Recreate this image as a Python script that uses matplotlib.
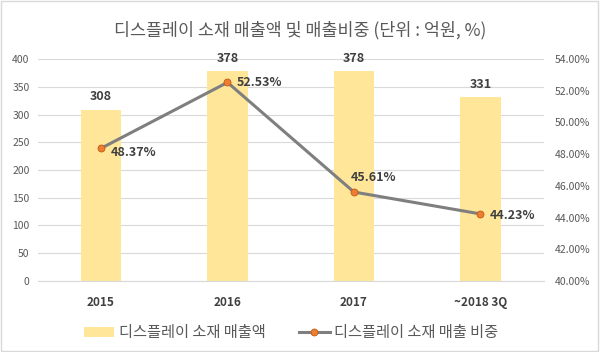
import numpy as np
import matplotlib.pyplot as plt
import matplotlib.ticker as mticker

plt.rcParams['font.family'] = ['Noto Sans CJK KR', 'DejaVu Sans']

categories = ['2015', '2016', '2017', '~2018 3Q']
sales = [308, 378, 378, 331]
share = [48.37, 52.53, 45.61, 44.23]

bar_color = '#FFE699'
line_color = '#7F7F7F'
marker_color = '#ED7D31'
text_color = '#595959'

fig = plt.figure(figsize=(6, 3.52), dpi=100)
ax = fig.add_axes([0.063, 0.202, 0.843, 0.63])
ax2 = ax.twinx()

x = np.arange(len(categories))
ax.bar(x, sales, width=0.32, color=bar_color, zorder=2, label='디스플레이 소재 매출액')
ax.set_ylim(0, 400)
ax.set_xlim(-0.5, len(categories) - 0.5)
ax.set_yticks(np.arange(0, 401, 50))
ax.grid(axis='y', color='#D9D9D9', linewidth=0.8, zorder=0)
ax.set_axisbelow(True)
ax.set_xticks(x)
ax.set_xticklabels(categories, fontsize=8.5, fontweight='bold', color='#404040')
ax.tick_params(axis='x', length=0, pad=11)
ax.tick_params(axis='y', length=0, labelsize=7.5, labelcolor=text_color, pad=6)
for s in ax.spines.values():
    s.set_visible(False)
ax.spines['bottom'].set_visible(True)
ax.spines['bottom'].set_color('#D9D9D9')

for xi, v in zip(x, sales):
    ax.text(xi, v + 12, f'{v}', ha='center', va='bottom', fontsize=9, fontweight='bold', color='#404040')

ax2.plot(x, share, color=line_color, linewidth=2.2, marker='o', markersize=5,
         markerfacecolor=marker_color, markeredgecolor='#C55A11', markeredgewidth=0.6,
         zorder=3, label='디스플레이 소재 매출 비중')
ax2.set_ylim(40, 54)
ax2.set_yticks(np.arange(40, 54.1, 2))
ax2.yaxis.set_major_formatter(mticker.FuncFormatter(lambda v, p: f'{v:.2f}%'))
ax2.tick_params(axis='y', length=0, labelsize=7.5, labelcolor=text_color, pad=8)
for s in ax2.spines.values():
    s.set_visible(False)

offsets = [(7, -3), (7, 0), (-2, 6), (7, -1)]
for xi, v, off in zip(x, share, offsets):
    ax2.annotate(f'{v:.2f}%', (xi, v), xytext=off, textcoords='offset points',
                 ha='left', va='bottom' if off[1] > 3 else 'center',
                 fontsize=9, fontweight='bold', color='#404040')

fig.text(0.5, 0.915, '디스플레이 소재 매출액 및 매출비중 (단위 : 억원, %)', ha='center', va='center',
         fontsize=12.5, color=text_color)

h1, l1 = ax.get_legend_handles_labels()
h2, l2 = ax2.get_legend_handles_labels()
fig.legend(h1 + h2, l1 + l2, loc='center', bbox_to_anchor=(0.485, 0.055), ncol=2, frameon=False,
           fontsize=11, labelcolor=text_color, handlelength=2.0, handleheight=0.6,
           columnspacing=2.2, handletextpad=0.3)

fig.patches.append(plt.Rectangle((0.002, 0.003), 0.995, 0.993, transform=fig.transFigure,
                                 fill=False, edgecolor='#D9D9D9', linewidth=1))

fig.savefig('out.png', dpi=100)
